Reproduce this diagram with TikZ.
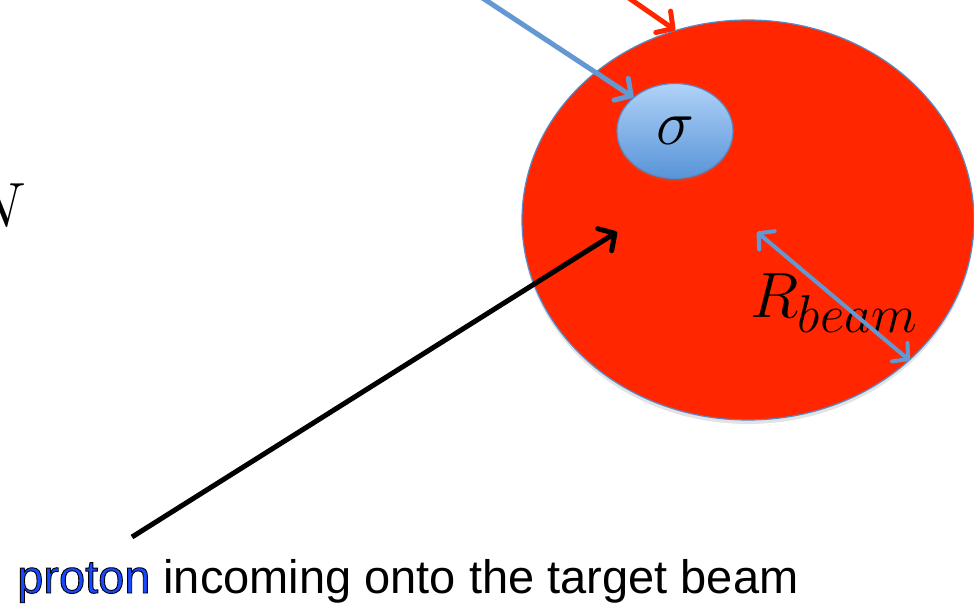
\documentclass[tikz,border=0pt]{standalone}
\usepackage{graphicx}
\usepackage{fontspec}
\newfontfamily\slidefont{Liberation Sans}
\usetikzlibrary{positioning, arrows.meta, shapes.geometric, shadows}
\definecolor{beamred}{RGB}{255,38,0}
\definecolor{edgeblue}{RGB}{88,138,200}
\definecolor{lineblue}{RGB}{100,152,210}
\definecolor{skytop}{RGB}{176,210,248}
\definecolor{skybot}{RGB}{88,148,216}
\definecolor{protonblue}{RGB}{24,72,255}
\newcommand{\slidemath}[1]{\scalebox{2.572}{\Huge$#1$}}
% blue word with a thin dark outline
\newcommand{\outlined}[1]{\textcolor{protonblue}{\special{pdf:literal direct 2 Tr 0.9 w 0 0 0 RG}#1\special{pdf:literal direct 0 Tr}}}

\begin{document}
\begin{tikzpicture}[x=1pt, y=-1pt,
    bigmath/.style={inner sep=0pt},
    beam/.style={ellipse, draw=edgeblue, line width=1.2pt, fill=beamred, inner sep=0pt,
                 minimum width=452pt, minimum height=400pt,
                 drop shadow={opacity=0.22, shadow xshift=0pt, shadow yshift=-4pt}},
    blob/.style={ellipse, draw=edgeblue, line width=1.2pt, top color=skytop, bottom color=skybot,
                 inner sep=0pt, minimum width=116pt, minimum height=95pt,
                 drop shadow={opacity=0.22, shadow xshift=0pt, shadow yshift=-3pt}},
    arr/.style={line width=5pt, -{Straight Barb[length=12pt, width=26pt, round]}},
    dbl/.style={line width=4pt, draw=lineblue,
                {Straight Barb[length=11pt, width=24pt, round]}-{Straight Barb[length=11pt, width=24pt, round]}}
  ]
  \useasboundingbox (0,0) rectangle (974,604);
  \node[beam] (beam) at (748,220) {};
  \node[blob] (xsec) at (675,131) {\slidemath{\sigma}};
  \node[bigmath, anchor=base east] (lum) at (27,227) {\slidemath{N}};
  \node[bigmath, anchor=base west] (rlab) at (750,317) {\slidemath{R_{beam}}};
  \node[anchor=base west, inner sep=0pt, font=\slidefont\fontsize{47}{56}\selectfont] (caption) at (17,593)
    {\outlined{proton} incoming onto the target beam};
  % free ends of the incoming arrows
  \coordinate (bluein) at (440,-30);
  \coordinate (redin) at (600,-22);
  \coordinate (tail) at (132,537);
  \coordinate (hit) at (617,232);
  \coordinate (rin) at (757,232);
  \draw[arr, draw=lineblue] (bluein) -- (xsec.141);
  \draw[arr, draw=beamred] (redin) -- (beam.111);
  \draw[arr, draw=black] (tail) -- (hit);
  \draw[dbl] (rin) -- (beam.-41);
\end{tikzpicture}
\end{document}
